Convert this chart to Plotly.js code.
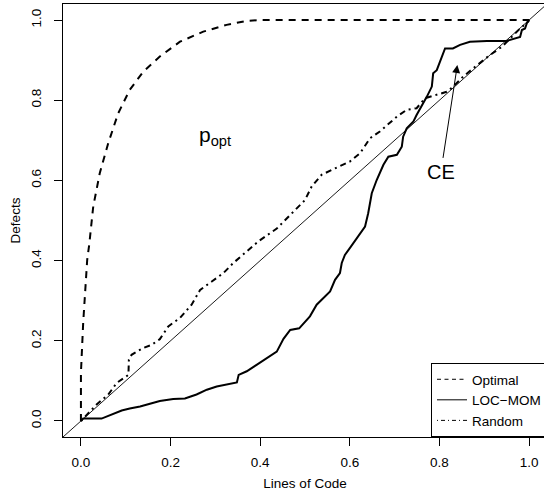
<!DOCTYPE html>
<html>
<head>
<meta charset="utf-8">
<script src="https://cdn.plot.ly/plotly-3.0.1.min.js"></script>
<style>
html, body { margin: 0; padding: 0; overflow: hidden; background: #fff; }
#chart { width: 560px; height: 493px; }
</style>
</head>
<body>
<div id="chart"></div>
<script>
// Tick values / labels
var tickVals = [0, 0.2, 0.4, 0.6, 0.8, 1.0];
var tickLabels = ['0.0', '0.2', '0.4', '0.6', '0.8', '1.0'];

// Reference diagonal (y = x)
var diagX = [-0.04, 1.04];
var diagY = [-0.04, 1.04];

// Optimal curve
var optX = [0, 0.0, 0.005, 0.009, 0.014, 0.0185, 0.0275, 0.042, 0.061, 0.083, 0.109, 0.139, 0.176, 0.221, 0.273, 0.325, 0.37, 0.40, 1.0];
var optY = [0, 0.12, 0.244, 0.327, 0.402, 0.44, 0.535, 0.618, 0.693, 0.767, 0.826, 0.871, 0.909, 0.946, 0.971, 0.988, 0.998, 1.0, 1.0];

// LOC-MOM curve
var locX = [0, 0.005, 0.046, 0.057, 0.072, 0.091, 0.109, 0.132, 0.154, 0.176, 0.206, 0.232, 0.258, 0.281, 0.303, 0.325, 0.348, 0.352, 0.37, 0.392, 0.415, 0.437, 0.452, 0.467, 0.487, 0.511, 0.526, 0.545, 0.556, 0.567, 0.578, 0.582, 0.589, 0.60, 0.619, 0.634, 0.641, 0.649, 0.66, 0.675, 0.686, 0.705, 0.716, 0.719, 0.727, 0.742, 0.749, 0.764, 0.772, 0.783, 0.786, 0.794, 0.805, 0.8125, 0.83, 0.846, 0.868, 0.906, 0.95, 0.98, 0.984, 0.991, 0.995, 1.0];
var locY = [0, 0.006, 0.006, 0.011, 0.016, 0.026, 0.031, 0.036, 0.043, 0.05, 0.055, 0.056, 0.066, 0.078, 0.086, 0.09, 0.096, 0.115, 0.124, 0.14, 0.157, 0.173, 0.205, 0.227, 0.231, 0.261, 0.29, 0.31, 0.323, 0.352, 0.369, 0.394, 0.414, 0.431, 0.46, 0.485, 0.518, 0.568, 0.601, 0.639, 0.659, 0.664, 0.684, 0.709, 0.730, 0.747, 0.763, 0.792, 0.809, 0.834, 0.867, 0.875, 0.905, 0.929, 0.929, 0.938, 0.946, 0.948, 0.948, 0.958, 0.975, 0.979, 0.992, 1.0];

// Random curve
var rndX = [0, 0.016, 0.035, 0.061, 0.08, 0.106, 0.107, 0.113, 0.139, 0.158, 0.176, 0.195, 0.221, 0.247, 0.266, 0.292, 0.318, 0.34, 0.37, 0.396, 0.437, 0.47, 0.50, 0.515, 0.537, 0.567, 0.60, 0.623, 0.645, 0.667, 0.69, 0.705, 0.727, 0.749, 0.768, 0.794, 0.816, 0.831, 0.853, 0.876, 0.913, 0.939, 0.961, 0.98, 0.998, 1.0];
var rndY = [0, 0.02, 0.041, 0.066, 0.095, 0.115, 0.153, 0.165, 0.182, 0.19, 0.204, 0.236, 0.257, 0.29, 0.327, 0.348, 0.369, 0.394, 0.423, 0.448, 0.48, 0.518, 0.551, 0.585, 0.614, 0.63, 0.647, 0.668, 0.705, 0.722, 0.743, 0.759, 0.776, 0.78, 0.805, 0.813, 0.821, 0.834, 0.859, 0.88, 0.913, 0.933, 0.958, 0.979, 0.996, 1.0];

var seriesNames = ['Optimal', 'LOC\u2212MOM', 'Random'];

var FONT = 'Liberation Sans, Arial, Helvetica, sans-serif';

var traces = [
  { x: diagX, y: diagY, mode: 'lines', showlegend: false, hoverinfo: 'skip',
    line: { color: '#000', width: 0.9 } },
  { x: optX, y: optY, mode: 'lines', name: seriesNames[0], showlegend: false,
    line: { color: '#000', width: 2, dash: '7px,6px' } },
  { x: locX, y: locY, mode: 'lines', name: seriesNames[1], showlegend: false,
    line: { color: '#000', width: 2 } },
  { x: rndX, y: rndY, mode: 'lines', name: seriesNames[2], showlegend: false,
    line: { color: '#000', width: 2, dash: '2px,4px,6px,4px' } },
  // legend keys (thin lines, as in the reference legend)
  { x: [null], y: [null], mode: 'lines', name: seriesNames[0],
    line: { color: '#000', width: 1, dash: '4px,3.5px' } },
  { x: [null], y: [null], mode: 'lines', name: seriesNames[1],
    line: { color: '#000', width: 1 } },
  { x: [null], y: [null], mode: 'lines', name: seriesNames[2],
    line: { color: '#000', width: 1, dash: '1px,3px,4px,3px' } }
];

var axisCommon = {
  range: [-0.04, 1.04],
  tickvals: tickVals,
  ticktext: tickLabels,
  ticks: 'outside',
  ticklen: 8,
  tickwidth: 1,
  tickcolor: '#000',
  showline: true,
  linecolor: '#000',
  linewidth: 1,
  mirror: true,
  showgrid: false,
  zeroline: false,
  tickfont: { family: FONT, size: 13.5, color: '#000' },
  automargin: false
};

var layout = {
  width: 560,
  height: 493,
  margin: { l: 63.1, r: 13, t: 3.9, b: 55.6 },
  paper_bgcolor: '#fff',
  plot_bgcolor: '#fff',
  font: { family: FONT, size: 13.5, color: '#000' },
  xaxis: Object.assign({}, axisCommon, {
    ticklabelstandoff: 5,
    title: { text: 'Lines of Code', font: { family: FONT, size: 13.5, color: '#000' }, standoff: 9 }
  }),
  yaxis: Object.assign({}, axisCommon, {
    tickangle: -90,
    ticklabelstandoff: 8,
    title: { text: 'Defects', font: { family: FONT, size: 13.5, color: '#000' }, standoff: 4 }
  }),
  legend: {
    x: 1, xanchor: 'right', y: 0, yanchor: 'bottom',
    bordercolor: '#000', borderwidth: 1, bgcolor: '#fff',
    font: { family: FONT, size: 13.5, color: '#000' },
    itemwidth: 30,
    tracegroupgap: 0
  },
  annotations: [
    { x: 0.3, y: 0.71, xref: 'x', yref: 'y', text: 'p<sub>opt</sub>', showarrow: false,
      font: { family: FONT, size: 21, color: '#000' } },
    { x: 0.84, y: 0.888, xref: 'x', yref: 'y', ax: 0.803, ay: 0.62, axref: 'x', ayref: 'y',
      text: 'CE', showarrow: true, arrowhead: 2, arrowsize: 1.6, arrowwidth: 1, arrowcolor: '#000',
      startstandoff: 2,
      font: { family: FONT, size: 20, color: '#000' } }
  ],
  showlegend: true
};

Plotly.newPlot('chart', traces, layout, { displayModeBar: false, staticPlot: true });
</script>
</body>
</html>
